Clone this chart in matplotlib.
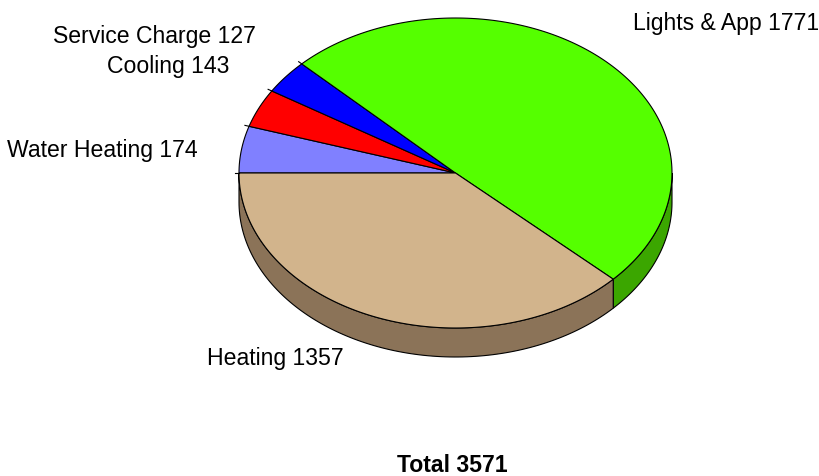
import numpy as np
import matplotlib
matplotlib.use('Agg')
import matplotlib.pyplot as plt
from matplotlib.patches import Polygon

plt.rcParams['font.family'] = ['Liberation Sans', 'DejaVu Sans']

# slices, in drawing order (clockwise from the left edge of the pie)
labels = ['Water Heating', 'Cooling', 'Service Charge', 'Lights & App', 'Heating']
values = [174, 143, 127, 1771, 1357]
total = 3571

top_colors = ['#8080FF', '#FF0000', '#0000FF', '#55FF00', '#D2B48C']
side_colors = ['#5A5AB3', '#B30000', '#0000B3', '#3BA600', '#8B7358']

# label anchor points (pixels, left/baseline)
label_pos = [(7, 157), (107, 73), (53, 43), (633, 30), (207, 365)]

# pie geometry in pixels
cx, cy = 455.5, 173.0
rx, ry = 216.5, 155.0
depth = 29.0


def pt(theta, dy=0.0, scale=1.0):
    t = np.radians(theta)
    return cx + scale * rx * np.cos(t), cy - scale * ry * np.sin(t) + dy


fig = plt.figure(figsize=(8.19, 4.76), dpi=100)
ax = fig.add_axes([0, 0, 1, 1])
ax.set_xlim(0, 819)
ax.set_ylim(476, 0)
ax.axis('off')

vals = np.array(values, dtype=float)
spans = vals / vals.sum() * 360.0
starts = 180.0 - np.concatenate([[0.0], np.cumsum(spans)[:-1]])
ends = starts - spans

# side walls (only the front half, theta in [-180, 0])
for s, e, c in zip(starts, ends, side_colors):
    lo, hi = max(min(s, e), -180.0), min(max(s, e), 0.0)
    if hi <= lo:
        continue
    th = np.linspace(lo, hi, 120)
    top = [pt(t) for t in th]
    bot = [pt(t, depth) for t in th[::-1]]
    ax.add_patch(Polygon(top + bot, closed=True, facecolor=c,
                         edgecolor='black', linewidth=0.8, zorder=1))

# top faces
for s, e, c in zip(starts, ends, top_colors):
    th = np.linspace(s, e, max(int(abs(s - e)), 4))
    verts = [(cx, cy)] + [pt(t) for t in th]
    ax.add_patch(Polygon(verts, closed=True, facecolor=c,
                         edgecolor='black', linewidth=0.8, zorder=2))

# small ticks where slice borders cross the rim on the left
for s in starts[:4]:
    x0, y0 = pt(s)
    x1, y1 = pt(s, scale=1.02)
    ax.plot([x0, x1], [y0, y1], color='black', lw=0.8, zorder=3)

for (x, y), lab, v in zip(label_pos, labels, values):
    ax.text(x, y, f'{lab} {v}', fontsize=16.6, ha='left', va='baseline')

ax.text(452, 472, f'Total {total}', fontsize=16.6, fontweight='bold',
        ha='center', va='baseline')

fig.savefig('out.png', dpi=100)
